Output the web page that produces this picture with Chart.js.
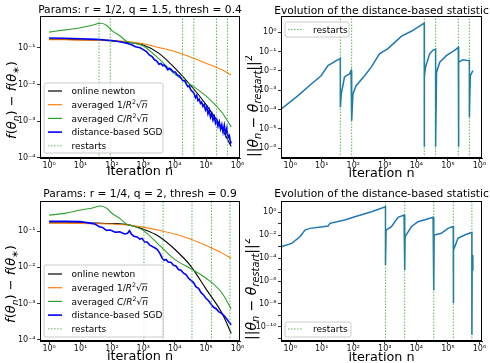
<!DOCTYPE html>
<html>
<head>
<meta charset="utf-8">
<script src="https://cdn.jsdelivr.net/npm/chart.js@4.4.1/dist/chart.umd.min.js"></script>
<style>
  html, body { margin: 0; padding: 0; background: #fff; }
  #wrap { position: relative; width: 490px; height: 363px; overflow: hidden; }
  canvas { position: absolute; }
</style>
</head>
<body>
<div id="wrap">
  <canvas id="tl" width="245" height="181" style="left:0;top:0"></canvas>
  <canvas id="tr" width="245" height="181" style="left:245px;top:0"></canvas>
  <canvas id="bl" width="245" height="182" style="left:0;top:181px"></canvas>
  <canvas id="br" width="245" height="182" style="left:245px;top:181px"></canvas>
</div>
<script>
// ---- data ----
var restartsA = [39, 89, 17800, 40700, 214000, 479000];
var restartsB = [1050, 4270, 35500, 148000, 575000];

var nGrid = [1, 3.16, 10, 31.6, 100, 316, 1000, 3160, 10000, 31600, 100000, 316000, 631000];
var newtonA = [0.170, 0.170, 0.166, 0.162, 0.155, 0.141, 0.120, 0.0708, 0.0282, 0.00955, 0.00282, 0.000631, 0.000200];
var avgInvA = [0.166, 0.166, 0.162, 0.160, 0.158, 0.148, 0.129, 0.102, 0.0794, 0.0562, 0.0380, 0.0251, 0.0182];
var newtonB = [0.170, 0.170, 0.170, 0.166, 0.162, 0.151, 0.112, 0.0708, 0.0316, 0.0112, 0.00251, 0.000562, 0.000151];
var avgInvB = [0.166, 0.166, 0.162, 0.160, 0.157, 0.147, 0.129, 0.105, 0.0832, 0.0603, 0.0398, 0.0251, 0.0178];

var nGreen = [1, 3.16, 10, 20, 45, 70, 100, 178, 300, 562, 1000, 3160, 10000, 31600, 100000, 316000, 631000];
var avgCA = [0.269, 0.309, 0.355, 0.40, 0.468, 0.40, 0.295, 0.214, 0.148, 0.132, 0.112, 0.050, 0.0191, 0.0100, 0.00479, 0.00174, 0.000692];
var avgCB = [0.275, 0.309, 0.380, 0.42, 0.49, 0.42, 0.31, 0.224, 0.155, 0.132, 0.105, 0.0417, 0.0166, 0.00933, 0.00501, 0.00200, 0.000708];

var sgdNA = [1, 3.16, 10, 31.6, 100, 200, 316, 447, 562, 794,
  1000, 1259, 1585, 1905, 2239, 2692, 3162, 3631, 4169, 4571,
  5248, 6026, 6918, 7943, 9120, 10470, 12020, 13800, 15850, 18200,
  20890, 22910, 26300, 28840, 33110, 38020, 41690, 45710, 50120, 54950,
  60260, 66070, 72440, 79430, 87100, 95500, 104700, 114800, 125900, 138000,
  151400, 166000, 182000, 199500, 218800, 239900, 263000, 288400, 316200, 346700,
  380200, 416900, 457100, 501200, 549500, 602600, 631000];
var sgdA = [0.186, 0.182, 0.178, 0.170, 0.158, 0.145, 0.132, 0.120, 0.107, 0.100,
  0.0891, 0.0794, 0.0631, 0.0575, 0.0479, 0.0437, 0.0355, 0.0372, 0.0324, 0.0339,
  0.0302, 0.0251, 0.0275, 0.0251, 0.0219, 0.0219, 0.0182, 0.0174, 0.0151, 0.0126,
  0.0126, 0.0105, 0.00871, 0.00912, 0.00692, 0.00631, 0.0055, 0.00437, 0.00501, 0.00363,
  0.00398, 0.00302, 0.00331, 0.00251, 0.00282, 0.00200, 0.00240, 0.00158, 0.00200, 0.00126,
  0.00158, 0.00105, 0.00132, 0.000871, 0.00110, 0.000724, 0.000955, 0.000603, 0.000794, 0.000501,
  0.000759, 0.000437, 0.000631, 0.000347, 0.000398, 0.000251, 0.000282];

var sgdNB = [1, 3.16, 10, 20, 28.2, 39.8, 50.1, 67.6, 89.1, 126,
  178, 251, 316, 363, 417, 501, 631, 776, 912, 1096,
  1318, 1585, 1905, 2291, 2754, 3311, 3981, 4571, 5248, 6310,
  7586, 9120, 10960, 13180, 15850, 19050, 22910, 27540, 33110, 39810,
  47860, 57540, 69180, 83180, 100000, 120200, 144500, 173800, 208900, 251200,
  302000, 363100, 436500, 524800, 631000];
var sgdB = [0.186, 0.186, 0.182, 0.166, 0.158, 0.132, 0.126, 0.105, 0.107, 0.0933,
  0.0955, 0.0832, 0.0871, 0.102, 0.0832, 0.0724, 0.0692, 0.0603, 0.0631, 0.0501,
  0.0501, 0.0417, 0.0380, 0.0347, 0.0316, 0.0251, 0.0182, 0.0158, 0.0166, 0.0138,
  0.0138, 0.0115, 0.0110, 0.00871, 0.00832, 0.00692, 0.00631, 0.00501, 0.00437, 0.00380,
  0.00288, 0.00263, 0.00200, 0.00174, 0.00138, 0.00120, 0.000955, 0.000794, 0.000724, 0.000603,
  0.000550, 0.000479, 0.000398, 0.000316, 0.000263];

var statNA = [0.513, 1.78, 4.68, 9.55, 15.8, 28.8, 37.2, 39, 39, 41.7,
  52.5, 60.3, 75.9, 85.1, 89, 89, 97.7, 123, 229, 372,
  676, 1259, 3388, 6918, 17800, 17800, 18100, 19500, 26300, 33900,
  40700, 40700, 43600, 55000, 89100, 166000, 214000, 214000, 224000, 302000,
  437000, 479000, 479000, 513000, 617000];
var statA = [1.05e-4, 5.25e-4, 2.09e-3, 5.62e-3, 1.86e-2, 3.39e-2, 4.17e-2, 4.47e-2, 1.29e-4, 6.3e-4,
  4.68e-3, 5.62e-3, 6.92e-3, 1.02e-2, 1.05e-2, 2.63e-5, 6.3e-4, 1.7e-3, 5.62e-3, 1.55e-2,
  7.6e-2, 0.141, 0.63, 1.12, 2.95, 1.17e-6, 5.0e-3, 1.55e-2, 7.6e-2, 0.12,
  0.135, 1.17e-6, 8.5e-3, 2.82e-2, 6.17e-2, 0.12, 0.166, 1.17e-6, 2.82e-2, 3.8e-2,
  3.39e-2, 3.39e-2, 3.98e-5, 5.62e-3, 1.02e-2];

var statNB = [0.513, 1.12, 2.04, 2.95, 4.27, 10.7, 16, 18.2, 53.7, 112,
  380, 1050, 1050, 1100, 1620, 2630, 4070, 4270, 4270, 4400,
  6920, 11200, 20900, 33900, 35500, 35500, 36500, 61700, 100000, 138000,
  148000, 148000, 152000, 209000, 339000, 525000, 575000, 575000, 585000, 617000];
var statB = [1.0e-3, 1.95e-3, 7.4e-3, 2.82e-2, 3.98e-2, 5.5e-2, 6.3e-2, 0.11, 0.214, 0.417,
  1.12, 3.09, 2.5e-5, 2.82e-2, 5.5e-2, 0.363, 0.575, 0.6, 9.1e-6, 7.4e-3,
  5.5e-2, 0.151, 0.245, 0.363, 0.38, 1.6e-7, 1.05e-2, 1.48e-2, 3.98e-2, 5.5e-2,
  5.6e-2, 1.12e-8, 5.1e-4, 5.4e-3, 1.05e-2, 1.66e-2, 1.7e-2, 2.0e-11, 9.1e-6, 1.86e-4];

var xTicks = [1, 10, 100, 1e3, 1e4, 1e5, 1e6];
var yTicksF = [1e-4, 1e-3, 1e-2, 1e-1];
var yTicksA = [1e-6, 1e-5, 1e-4, 1e-3, 1e-2, 1e-1, 1];
var yTicksB = [1e-11, 1e-10, 1e-9, 1e-8, 1e-7, 1e-6, 1e-5, 1e-4, 1e-3, 1e-2, 1e-1, 1];

// ---- helpers ----
var FONT = '"DejaVu Sans", sans-serif';
var xMin = Math.pow(10, -0.29), xMax = Math.pow(10, 6.08);
var SUP = {'-': '\u207B', '0': '\u2070', '1': '\u00B9', '2': '\u00B2', '3': '\u00B3', '4': '\u2074',
  '5': '\u2075', '6': '\u2076', '7': '\u2077', '8': '\u2078', '9': '\u2079'};

function powLabel(v) {
  var e = String(Math.round(Math.log10(v)));
  return '10' + e.split('').map(function(c) { return SUP[c]; }).join('');
}

function pts(xs, ys) {
  return xs.map(function(x, i) { return {x: x, y: ys[i]}; });
}

function series(label, xs, ys, color, width, order, smooth) {
  return {
    label: label, data: pts(xs, ys), borderColor: color, borderWidth: width,
    pointRadius: 0, fill: false, order: order, tension: 0,
    cubicInterpolationMode: smooth ? 'monotone' : 'default'
  };
}

function restartLines(xs, lo, hi) {
  var d = [];
  xs.forEach(function(x) { d.push({x: x, y: lo}, {x: x, y: hi}, {x: x, y: null}); });
  return {label: 'restarts', data: d, borderColor: 'rgba(44,160,44,0.85)', borderWidth: 0.9,
    borderDash: [1.5, 1.5], pointRadius: 0, order: 0, spanGaps: false};
}

function logAxis(o) {
  return {
    type: 'logarithmic', min: o.min, max: o.max, position: o.pos,
    afterBuildTicks: function(s) { s.ticks = o.ticks.map(function(v) { return {value: v}; }); },
    afterFit: function(s) {
      if (o.pos === 'left') s.width = o.size; else s.height = o.size;
      s.paddingLeft = 0; s.paddingRight = 0; s.paddingTop = 0; s.paddingBottom = 0;
    },
    grid: {drawOnChartArea: false, drawTicks: true, tickLength: 3, color: '#000', lineWidth: 0.8},
    border: {display: true, color: '#000', width: 1},
    ticks: {
      autoSkip: false, maxRotation: 0, padding: o.pad, color: '#111',
      font: {family: FONT, size: 8},
      callback: function(v) {
        var e = Math.round(Math.log10(v));
        if (o.every && e % o.every !== 0) return '';
        return powLabel(v);
      }
    }
  };
}

function partFont(p, size) {
  var k = p[1] || '';
  var small = k.indexOf('sub') >= 0 || k.indexOf('sup') >= 0;
  return (k.charAt(0) === 'i' ? 'italic ' : '') + (small ? size * 0.7 : size) + 'px ' + FONT;
}

// draw a row of text pieces (plain, italic, sub/superscript, overline)
function drawRich(ctx, parts, x, y, size, center) {
  var ws = parts.map(function(p) { ctx.font = partFont(p, size); return ctx.measureText(p[0]).width; });
  var total = ws.reduce(function(s, w) { return s + w; }, 0);
  var cx = center ? x - total / 2 : x;
  ctx.textAlign = 'left';
  ctx.textBaseline = 'alphabetic';
  parts.forEach(function(p, i) {
    var k = p[1] || '';
    var dy = k.indexOf('sub') >= 0 ? size * 0.22 : (k.indexOf('sup') >= 0 ? -size * 0.4 : 0);
    ctx.font = partFont(p, size);
    ctx.fillText(p[0], cx, y + dy);
    if (k.indexOf('over') >= 0) {
      ctx.beginPath();
      ctx.lineWidth = 0.7;
      ctx.strokeStyle = ctx.fillStyle;
      ctx.moveTo(cx - 0.5, y - size * 0.8);
      ctx.lineTo(cx + ws[i], y - size * 0.8);
      ctx.stroke();
    }
    cx += ws[i];
  });
}

var yLabelF = [['f', 'i'], ['('], ['\u03B8', 'i'], ['n', 'isub'], [')'], [' \u2212 '], ['f', 'i'], ['('], ['\u03B8', 'i'], ['\u2217', 'sub'], [')']];
var yLabelS = [['||'], ['\u03B8', 'i'], ['n', 'isub'], [' \u2212 '], ['\u03B8', 'i'], ['restart', 'isub'], ['||'], ['2', 'sup']];

var legendLeft = [
  {parts: [['online newton']], color: '#000000', width: 1.2},
  {parts: [['averaged 1/'], ['R', 'i'], ['2', 'sup'], ['\u221A'], ['n', 'iover']], color: '#ff7f0e', width: 1.2},
  {parts: [['averaged '], ['C', 'i'], ['/'], ['R', 'i'], ['2', 'sup'], ['\u221A'], ['n', 'iover']], color: '#2ca02c', width: 1.2},
  {parts: [['distance-based SGD']], color: '#0000ff', width: 1.6},
  {parts: [['restarts']], color: 'rgba(44,160,44,0.85)', width: 0.9, dash: [1.5, 1.5]}
];
var legendRight = [
  {parts: [['restarts']], color: 'rgba(44,160,44,0.85)', width: 0.9, dash: [1.5, 1.5]}
];

function decor(cfg) {
  return {
    id: 'decor',
    afterDraw: function(chart) {
      var ctx = chart.ctx, a = chart.chartArea;
      ctx.save();
      ctx.setLineDash([]);
      ctx.strokeStyle = '#000';
      ctx.lineWidth = 1;
      ctx.strokeRect(a.left + 0.5, a.top + 0.5, a.right - a.left - 1, a.bottom - a.top - 1);

      ctx.fillStyle = '#000';
      ctx.font = '10.7px ' + FONT;
      ctx.textAlign = 'center';
      ctx.textBaseline = 'middle';
      ctx.fillText(cfg.title, (a.left + a.right) / 2, cfg.titleY);
      ctx.font = '12.8px ' + FONT;
      ctx.fillText('iteration n', (a.left + a.right) / 2, cfg.xLabelY);

      ctx.save();
      ctx.translate(cfg.yLabelX, cfg.yLabelY);
      ctx.rotate(-Math.PI / 2);
      drawRich(ctx, cfg.yLabel, 0, 4.8, cfg.yLabelSize, true);
      ctx.restore();

      // legend box
      var L = cfg.legend, r = 2;
      ctx.beginPath();
      ctx.moveTo(L.x + r, L.y);
      ctx.arcTo(L.x + L.w, L.y, L.x + L.w, L.y + L.h, r);
      ctx.arcTo(L.x + L.w, L.y + L.h, L.x, L.y + L.h, r);
      ctx.arcTo(L.x, L.y + L.h, L.x, L.y, r);
      ctx.arcTo(L.x, L.y, L.x + L.w, L.y, r);
      ctx.closePath();
      ctx.fillStyle = 'rgba(255,255,255,0.8)';
      ctx.fill();
      ctx.strokeStyle = '#cccccc';
      ctx.lineWidth = 1;
      ctx.stroke();
      L.items.forEach(function(it, i) {
        var y = L.rowY + i * L.rowH;
        ctx.beginPath();
        ctx.setLineDash(it.dash || []);
        ctx.strokeStyle = it.color;
        ctx.lineWidth = it.width;
        ctx.moveTo(L.x1, y);
        ctx.lineTo(L.x2, y);
        ctx.stroke();
        ctx.setLineDash([]);
        ctx.fillStyle = '#000';
        drawRich(ctx, it.parts, L.tx, y + 3.3, 9, false);
      });
      ctx.restore();
    }
  };
}

function makeChart(id, cfg) {
  return new Chart(document.getElementById(id), {
    type: 'line',
    data: {datasets: cfg.datasets},
    options: {
      responsive: false,
      animation: false,
      events: [],
      layout: {padding: cfg.padding},
      scales: {
        x: logAxis({min: xMin, max: xMax, pos: 'bottom', size: cfg.xSize, ticks: xTicks, pad: 0}),
        y: logAxis({min: cfg.yMin, max: cfg.yMax, pos: 'left', size: cfg.ySize, ticks: cfg.yTicks, pad: 1.5, every: cfg.every})
      },
      plugins: {legend: {display: false}, tooltip: {enabled: false}}
    },
    plugins: [decor(cfg)]
  });
}

// ---- top left ----
var yMinTL = Math.pow(10, -4.01), yMaxTL = Math.pow(10, -0.13);
makeChart('tl', {
  padding: {left: 0, right: 5, top: 16, bottom: 0}, xSize: 23, ySize: 40,
  yMin: yMinTL, yMax: yMaxTL, yTicks: yTicksF,
  title: 'Params: r = 1/2, q = 1.5, thresh = 0.4', titleY: 10.5, xLabelY: 171.5,
  yLabel: yLabelF, yLabelSize: 13, yLabelX: 11, yLabelY: 100,
  legend: {x: 44, y: 83, w: 119, h: 70, rowY: 91, rowH: 13.7, x1: 48, x2: 62, tx: 71.5, items: legendLeft},
  datasets: [
    restartLines(restartsA, yMinTL, yMaxTL),
    series('distance-based SGD', sgdNA, sgdA, '#0000ff', 1.6, 1, false),
    series('averaged C/R2sqrt(n)', nGreen, avgCA, '#2ca02c', 1.1, 2, true),
    series('averaged 1/R2sqrt(n)', nGrid, avgInvA, '#ff7f0e', 1.1, 3, true),
    series('online newton', nGrid, newtonA, '#000000', 1.1, 4, true)
  ]
});

// ---- bottom left ----
var yMinBL = Math.pow(10, -4.03), yMaxBL = Math.pow(10, -0.17);
makeChart('bl', {
  padding: {left: 0, right: 5, top: 20, bottom: 0}, xSize: 22, ySize: 40,
  yMin: yMinBL, yMax: yMaxBL, yTicks: yTicksF,
  title: 'Params: r = 1/4, q = 2, thresh = 0.9', titleY: 13, xLabelY: 176,
  yLabel: yLabelF, yLabelSize: 13, yLabelX: 10, yLabelY: 103,
  legend: {x: 44, y: 84, w: 119, h: 72, rowY: 93, rowH: 13.7, x1: 48, x2: 62, tx: 71.5, items: legendLeft},
  datasets: [
    restartLines(restartsB, yMinBL, yMaxBL),
    series('distance-based SGD', sgdNB, sgdB, '#0000ff', 1.6, 1, false),
    series('averaged C/R2sqrt(n)', nGreen, avgCB, '#2ca02c', 1.1, 2, true),
    series('averaged 1/R2sqrt(n)', nGrid, avgInvB, '#ff7f0e', 1.1, 3, true),
    series('online newton', nGrid, newtonB, '#000000', 1.1, 4, true)
  ]
});

// ---- top right ----
var yMinTR = Math.pow(10, -6.51), yMaxTR = Math.pow(10, 0.84);
makeChart('tr', {
  padding: {left: 0, right: 8, top: 16, bottom: 0}, xSize: 23, ySize: 36,
  yMin: yMinTR, yMax: yMaxTR, yTicks: yTicksA,
  title: 'Evolution of the distance-based statistic', titleY: 11, xLabelY: 174,
  yLabel: yLabelS, yLabelSize: 14, yLabelX: 8, yLabelY: 106,
  legend: {x: 40, y: 22, w: 64, h: 15, rowY: 29.5, rowH: 13.7, x1: 43, x2: 58, tx: 68, items: legendRight},
  datasets: [
    restartLines(restartsA, yMinTR, yMaxTR),
    series('statistic', statNA, statA, '#1f77b4', 1.5, 1, false)
  ]
});

// ---- bottom right ----
var yMinBR = Math.pow(10, -11.24), yMaxBR = Math.pow(10, 0.99);
makeChart('br', {
  padding: {left: 0, right: 8, top: 20, bottom: 0}, xSize: 22, ySize: 36,
  yMin: yMinBR, yMax: yMaxBR, yTicks: yTicksB, every: 2,
  title: 'Evolution of the distance-based statistic', titleY: 13, xLabelY: 177,
  yLabel: yLabelS, yLabelSize: 14, yLabelX: 6, yLabelY: 108,
  legend: {x: 40, y: 141, w: 66, h: 15, rowY: 148, rowH: 13.7, x1: 43, x2: 58, tx: 68, items: legendRight},
  datasets: [
    restartLines(restartsB, yMinBR, yMaxBR),
    series('statistic', statNB, statB, '#1f77b4', 1.5, 1, false)
  ]
});
</script>
</body>
</html>
